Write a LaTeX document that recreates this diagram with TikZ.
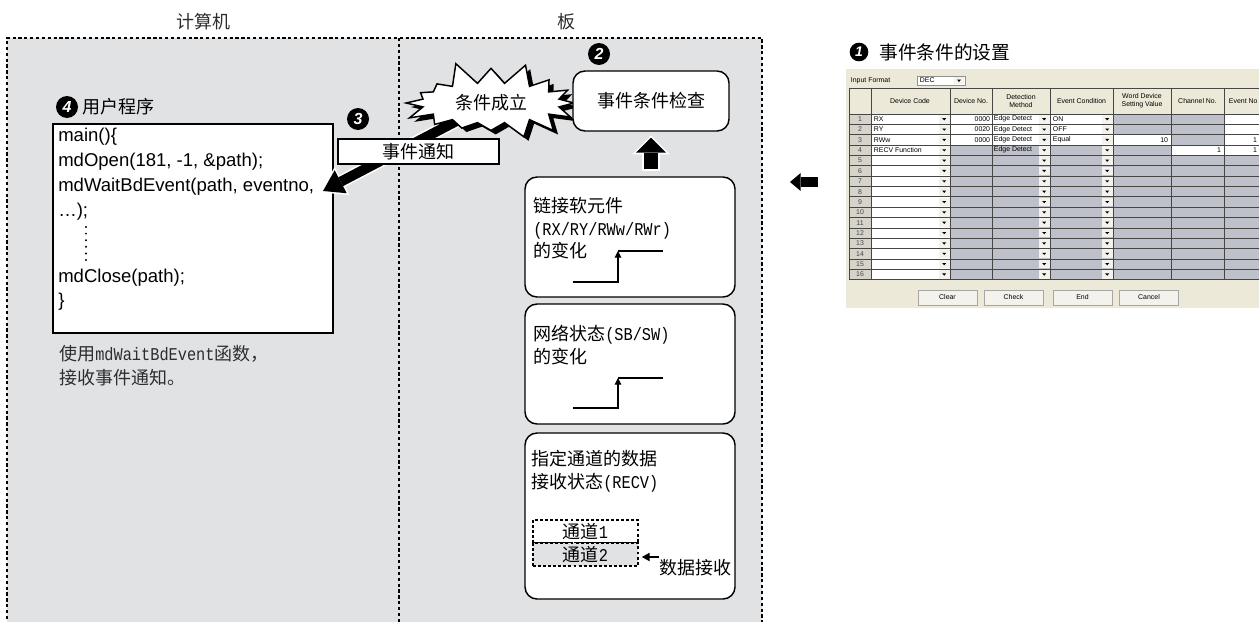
\documentclass[tikz,border=0pt]{standalone}
\usepackage{fontspec}
\setmainfont{Liberation Sans}
\newfontfamily\cjk{Noto Sans CJK SC}
\newfontfamily\cjkmono{Liberation Mono}[FakeStretch=0.85]
\usepackage{tikz}
\usetikzlibrary{positioning,arrows.meta,shapes.symbols,shadows}
\definecolor{panelgray}{RGB}{225,226,228}
\definecolor{txtgray}{RGB}{45,45,45}
\definecolor{dlgbg}{RGB}{236,233,216}
\definecolor{cellgray}{RGB}{190,193,202}
\definecolor{rowhead}{RGB}{214,211,202}
\definecolor{gridline}{RGB}{70,70,70}
\definecolor{btnface}{RGB}{243,242,237}
\pgfdeclarelayer{back}
\pgfdeclarelayer{arrowlayer}
\pgfsetlayers{back,arrowlayer,main}

\begin{document}
\begin{tikzpicture}[x=0.75pt, y=-0.75pt,
  cjktext/.style={font=\cjk\fontsize{13.5}{17}\selectfont, inner sep=0pt},
  stepnum/.style={circle, fill=black, text=white, inner sep=0pt, minimum size=16.5pt, font=\bfseries\itshape\fontsize{12}{12}\selectfont},
  roundbox/.style={draw, line width=1.1pt, rounded corners=9pt, fill=white},
  panelline/.style={line width=2.2pt, dash pattern=on 2.4pt off 2pt},
  ui/.style={font=\fontsize{5.2}{6}\selectfont, inner sep=0.5pt}]
\useasboundingbox (0,0) rectangle (1259,621);

% panels
\begin{pgfonlayer}{back}
\fill[panelgray] (7,38) rectangle (762,625);
\node[draw, line width=1.5pt, fill=white, minimum width=210pt, minimum height=156.75pt] (code) at (193,228.5) {};
\end{pgfonlayer}
\draw[panelline] (7,625) -- (7,38) -- (762,38) -- (762,625);
\draw[panelline] (399,38) -- (399,625);
\node[cjktext, text=txtgray] (pc) at (203,22) {计算机};
\node[cjktext, text=txtgray] (board) at (566,22) {板};

% user program
\node[stepnum] (n4) at (67,107) {4};
\node[cjktext, right=3pt of n4] (prog) {用户程序};
\foreach \i/\y/\t in {1/141.7/{main()\{}, 2/166.5/{mdOpen(181, -1, \&path);}, 3/191.3/{mdWaitBdEvent(path, eventno,}, 4/216/{…);}, 5/282/{mdClose(path);}, 6/306/{\}}}
  \node[anchor=base west, inner sep=0pt, font=\fontsize{13.9}{16}\selectfont] (line\i) at (58,\y) {\t};
\foreach \k in {0,...,5}
  \fill (86,227+\k*6.6) circle (1.1);
\node[cjktext, text=txtgray, align=left, anchor=north west, font=\cjk\fontsize{13.5}{18}\selectfont] (note) at (59,345) {使用{\cjkmono mdWaitBdEvent}函数，\\接收事件通知。};

% event notification
\coordinate (tip) at (323,191);
\node[draw, starburst, fill=white, line width=1.1pt, starburst points=16, starburst point height=18pt, random starburst=5, minimum width=140pt, minimum height=66pt, cjktext, drop shadow={fill=black, opacity=1, shadow xshift=3.5pt, shadow yshift=-3pt}] (burst) at (491,103) {条件成立};
\begin{pgfonlayer}{arrowlayer}
\draw[white, line width=9.9pt, -{Triangle[length=18.4pt,width=23.9pt,line width=0pt]}, shorten >=-2.2pt] (burst.center) -- (tip);
\draw[line width=7.5pt, -{Triangle[length=15pt,width=19.5pt,line width=0pt]}] (burst.center) -- (tip);
\end{pgfonlayer}
\node[draw, fill=white, line width=0.8pt, minimum width=120.75pt, minimum height=18.75pt, cjktext] (notice) at (418.5,151.5) {事件通知};
\node[stepnum] (n3) at (358,119) {3};

% board
\node[stepnum] (n2) at (599,54) {2};
\node[roundbox, minimum width=117pt, minimum height=45pt, cjktext] (check) at (651,101) {事件条件检查};

\node[roundbox, minimum width=157.5pt, minimum height=90pt] (dev) at (630,237) {};
\node[cjktext, align=left, anchor=north west] (devtxt) at (533,197) {链接软元件\\{\cjkmono (RX/RY/RWw/RWr)}\\的变化};
\draw[line width=0.8pt, -{Triangle[length=5pt,width=5pt]}] (573,282) -| (618,251);
\draw[line width=0.8pt] (618,251) -- (663,251);
\draw[white, line width=12.9pt, -{Triangle[length=14.15pt,width=28.3pt,line width=0pt]}, shorten <=4.05pt, shorten >=2.8pt] (dev.north -| check.south) -- (check.south);
\draw[line width=10.5pt, -{Triangle[length=11.25pt,width=22.5pt,line width=0pt]}, shorten <=5.25pt, shorten >=4.5pt] (dev.north -| check.south) -- (check.south);

\node[roundbox, minimum width=157.5pt, minimum height=90pt] (net) at (630,364) {};
\node[cjktext, align=left, anchor=north west] (nettxt) at (533,325) {网络状态{\cjkmono (SB/SW)}\\的变化};
\draw[line width=0.8pt, -{Triangle[length=5pt,width=5pt]}] (573,408) -| (618,378);
\draw[line width=0.8pt] (618,378) -- (663,378);

\node[roundbox, minimum width=157.5pt, minimum height=124.5pt] (recv) at (630,516) {};
\node[cjktext, align=left, anchor=north west] (recvtxt) at (531,450) {指定通道的数据\\接收状态{\cjkmono (RECV)}};
\node[draw, line width=0.8pt, dash pattern=on 2.2pt off 1.6pt, minimum width=78.75pt, minimum height=17.25pt, cjktext] (ch1) at (585.5,531.5) {通道{\cjkmono 1}};
\node[draw, fill=panelgray, line width=1.5pt, dash pattern=on 2.2pt off 1.6pt, minimum width=78.75pt, minimum height=17.25pt, cjktext] (ch2) at (585.5,554.5) {通道{\cjkmono 2}};
\node[cjktext] (recvlbl) at (695,568) {数据接收};
\coordinate (recvstart) at (659,557);
\draw[line width=1.5pt, -{Triangle[length=6pt,width=6pt]}, shorten >=2pt] (recvstart) -- (recvstart -| ch2.east);

% from the setting screen
\coordinate (dlgedge) at (818,182);
\coordinate (panelgap) at (790,182);
\draw[line width=7.5pt, -{Triangle[length=8pt,width=13.5pt,line width=0pt]}] (dlgedge) -- (panelgap);

% event condition setting
\node[stepnum, minimum size=14pt, font=\bfseries\itshape\fontsize{10.5}{10.5}\selectfont] (n1) at (859,52) {1};
\node[cjktext, font=\cjk\fontsize{14}{17}\selectfont, right=8pt of n1] (setting) {事件条件的设置};

\begin{scope}
\clip (846,60) rectangle (1259,320);
\fill[dlgbg] (846,69) rectangle (1265,308);
\node[ui, anchor=west] (infmt) at (850,80.5) {Input Format};
\draw[gridline!60, fill=white, line width=0.4pt] (917,76) rectangle (965,85);
\node[ui, anchor=west] (dec) at (919,80.5) {DEC};
\fill[btnface] (954,77) rectangle (964,84);
\fill (957,79.5) -- (961,79.5) -- (959,82) -- cycle;

% table cells
\fill[cellgray] (871,114) rectangle (1265,280);
\fill[rowhead] (849,114) rectangle (871,280);
\fill[white] (871,114) rectangle (950,280);
\fill[white] (950,114) rectangle (1113,145.05);
\fill[white] (1113,134.7) rectangle (1171,145.05);
\fill[white] (1171,145.05) rectangle (1224,155.4);
\fill[white] (1224,114) rectangle (1265,155.4);
\foreach \r in {1,...,16}{
  \pgfmathsetmacro{\yt}{114+(\r-1)*10.35}
  \foreach \xb in {939,1039,1102}{
    \fill[btnface] (\xb,\yt+0.8) rectangle (\xb+10.5,\yt+9.5);
    \fill (\xb+3.2,\yt+4.2) -- (\xb+7.2,\yt+4.2) -- (\xb+5.2,\yt+6.4) -- cycle;
  }
  \node[ui, text=gridline] (rn\r) at (860,\yt+5.2) {\r};
}
\foreach \r in {0,...,16}
  \draw[gridline, line width=0.5pt] (849,114+\r*10.35) -- (1265,114+\r*10.35);
\draw[gridline, line width=0.5pt] (849,88) -- (1265,88);
\foreach \x in {849,871,950,992,1050,1113,1171,1224}
  \draw[gridline, line width=0.5pt] (\x,88) -- (\x,280);

% header
\node[ui] (hdc) at (910,101) {Device Code};
\node[ui] (hdn) at (971,101) {Device No.};
\node[ui, align=center] (hdm) at (1021,101) {Detection\\Method};
\node[ui] (hec) at (1081.5,101) {Event Condition};
\node[ui, align=center] (hwd) at (1142,101) {Word Device\\Setting Value};
\node[ui] (hch) at (1197.5,101) {Channel No.};
\node[ui, anchor=west] (hen) at (1228,101) {Event No};

% rows
\foreach \r/\dc/\dn/\ec in {1/RX/0000/ON, 2/RY/0020/OFF, 3/RWw/0000/Equal}{
  \pgfmathsetmacro{\yc}{114+(\r-0.5)*10.35}
  \node[ui, anchor=west] (dc\r) at (873,\yc) {\dc};
  \node[ui, anchor=east] (dn\r) at (991,\yc) {\dn};
  \node[ui, anchor=west] (dm\r) at (993,\yc) {Edge Detect};
  \node[ui, anchor=west] (ec\r) at (1052,\yc) {\ec};
}
\node[ui, anchor=west] (dc4) at (873,150.2) {RECV Function};
\node[ui, anchor=west] (dm4) at (993,150.2) {Edge Detect};
\node[ui, anchor=east] (wd3) at (1169,139.9) {10};
\node[ui, anchor=east] (ch4) at (1222,150.2) {1};
\node[ui, anchor=east] (en3) at (1258,139.9) {1};
\node[ui, anchor=east] (en4) at (1258,150.2) {1};

% buttons
\foreach \x/\t in {947.5/Clear, 1013.5/Check, 1082.5/End, 1149/Cancel}
  \node[ui, draw=gray!70, fill=btnface, minimum width=44.25pt, minimum height=11.25pt] (btn\t) at (\x,297.5) {\t};
\end{scope}
\end{tikzpicture}
\end{document}
